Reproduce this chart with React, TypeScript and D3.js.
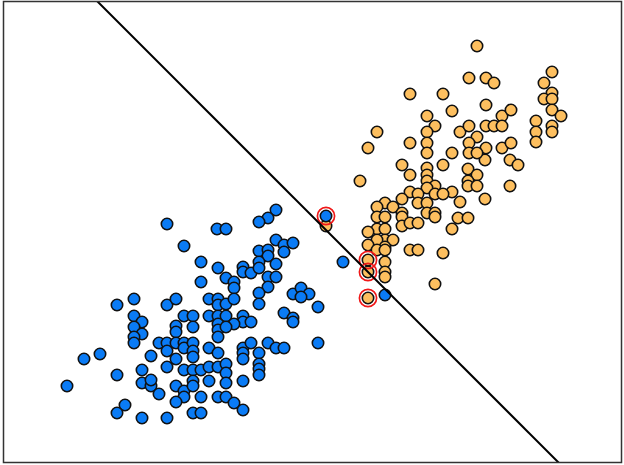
import React from "react";
import * as d3 from "d3";

const W = 624;
const H = 465;

// class 0 (blue) feature pairs
const blueX = [167,184,117,134,167,176,276,268,259,217,226,326,276,284,293,284,259,268,268,259,276,201,218,243,243,251,259,268,276,226,234,234,201,268,259,259,293,301,309,301,318,209,218,218,226,234,
134,142,134,142,134,134,159,167,167,176,176,184,176,184,184,176,151,100,84,117,142,167,184,67,142,151,151,159,176,184,184,176,125,117,142,167,
193,193,209,218,226,243,243,251,234,218,218,218,226,284,293,293,
193,193,193,209,218,243,243,243,251,259,268,276,284,318,259,259,259,193,201,209,218,226,226,193,193,209,226,243,201,218,226,234,243,193,201,343,385];
const blueY = [224,246,305,299,305,299,210,218,222,229,229,216,240,245,243,252,251,250,256,262,264,262,268,267,272,273,268,277,277,278,282,288,282,287,293,304,294,288,294,297,307,299,299,305,304,299,
316,322,327,334,337,343,343,343,351,326,332,316,343,343,348,359,356,354,359,375,370,367,370,386,383,386,380,394,386,391,397,402,405,413,418,418,
316,327,316,316,316,316,322,322,324,324,330,337,327,313,318,322,
343,351,357,348,353,348,353,359,343,353,343,348,348,343,364,369,375,370,370,367,367,364,373,381,386,381,383,381,397,397,397,403,410,413,413,262,295];

// class 1 (orange) feature pairs
const orangeX = [402,427,443,410,427,360,427,435,427,452,410,418,435,443,402,385,377,393,418,427,377,385,402,402,427,435,435,458,402,410,418,377,385,368,452,385,393,377,368,385,377,385,410,418,443,368,385,368,385,385,435,368,
468,477,468,468,477,485,510,518,510,460,485,468,
410,443,452,427,435,377,427,460,368,410,427,427,452,
477,469,486,494,486,502,511,469,477,486,494,502,469,486,502,511,469,477,552,544,552,544,552,552,561,536,536,536,552,552,326];
const orangeY = [165,168,165,175,175,181,181,186,188,192,192,194,194,194,199,203,207,207,203,203,217,217,213,217,213,213,217,218,226,223,223,229,229,232,229,240,240,240,245,247,250,250,250,250,253,260,262,272,272,277,284,298,
169,175,181,186,186,160,160,165,186,202,199,218,
94,94,111,116,126,132,132,132,148,143,143,153,153,
46,78,78,83,105,116,110,126,137,126,126,126,143,148,148,143,153,153,72,83,93,99,99,110,116,121,132,142,126,132,226];

// support vectors
const supportX = [326, 368, 368, 368];
const supportY = [216, 260, 272, 298];

// decision boundary: x2 = slope * x1 + intercept
const boundarySlope = 1;
const boundaryIntercept = -96;

const X_DOMAIN = [0, 624];
const Y_DOMAIN = [0, 465];

export default function App() {
  const x = d3.scaleLinear().domain(X_DOMAIN).range([0, W]);
  const y = d3.scaleLinear().domain(Y_DOMAIN).range([0, H]);

  const left = 3.5, right = 621.5, top = 1.5, bottom = 462.5;

  const x0 = x.invert(left), x1 = x.invert(right);
  const lineData: [number, number][] = [
    [x0, boundarySlope * x0 + boundaryIntercept],
    [x1, boundarySlope * x1 + boundaryIntercept],
  ];
  const line = d3.line<[number, number]>().x(d => x(d[0])).y(d => y(d[1]));

  const blue = blueX.map((v, i) => [v, blueY[i]]);
  const orange = orangeX.map((v, i) => [v, orangeY[i]]);
  const sv = supportX.map((v, i) => [v, supportY[i]]);

  return (
    <svg width={W} height={H} style={{ position: "absolute", left: 0, top: 0, background: "#fff" }}>
      <defs>
        <clipPath id="plot">
          <rect x={left} y={top} width={right - left} height={bottom - top} />
        </clipPath>
      </defs>
      <g clipPath="url(#plot)">
        {orange.map((d, i) => (
          <circle key={"o" + i} cx={x(d[0])} cy={y(d[1])} r={5.7} fill="#fdbf5f" stroke="#111" strokeWidth={1.6} />
        ))}
        {blue.map((d, i) => (
          <circle key={"b" + i} cx={x(d[0])} cy={y(d[1])} r={5.7} fill="#0a7bf5" stroke="#111" strokeWidth={1.6} />
        ))}
        {sv.map((d, i) => (
          <circle key={"s" + i} cx={x(d[0])} cy={y(d[1])} r={8.6} fill="none" stroke="#f01818" strokeWidth={1.7} />
        ))}
        <path d={line(lineData) || ""} stroke="#000" strokeWidth={2} fill="none" />
      </g>
      <rect x={left} y={top} width={right - left} height={bottom - top} fill="none" stroke="#333" strokeWidth={1.5} />
    </svg>
  );
}
